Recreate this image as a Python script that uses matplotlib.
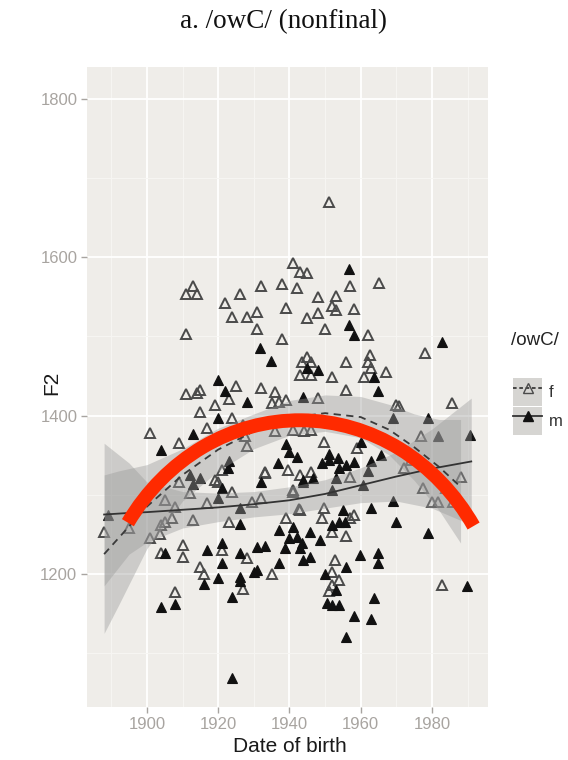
import numpy as np
import matplotlib
matplotlib.use("Agg")
import matplotlib.pyplot as plt
from matplotlib.patches import Arc, Patch
from matplotlib.lines import Line2D

plt.rcParams['font.family'] = ['Liberation Sans', 'DejaVu Sans']

# Scatter data: (date of birth, F2)
f_points = [
    (1951, 1670),
    (1941, 1592), (1943, 1581), (1945, 1580), (1942, 1561), (1948, 1549), (1953, 1551), (1957, 1564), (1965, 1567),
    (1952, 1538), (1953, 1533), (1958, 1535), (1948, 1530), (1945, 1523), (1950, 1509), (1962, 1502), (1978, 1479),
    (1913, 1563), (1911, 1554), (1914, 1554), (1922, 1542), (1926, 1553), (1932, 1563), (1938, 1566),
    (1924, 1525), (1928, 1525), (1931, 1531), (1931, 1509), (1939, 1536), (1911, 1503), (1938, 1497),
    (1943.5, 1467), (1945, 1474), (1946, 1467), (1943, 1451), (1946, 1451), (1952, 1448), (1956, 1467),
    (1962.6, 1477), (1962, 1467), (1963, 1460), (1961, 1448), (1967, 1455), (1956, 1432), (1970, 1413),
    (1985.5, 1416), (1948, 1422), (1970.7, 1412),
    (1925, 1437), (1932, 1435), (1911, 1427), (1914, 1429), (1915, 1432), (1923, 1421), (1936, 1430),
    (1935, 1416), (1937, 1417), (1939, 1420), (1919, 1413), (1915, 1405), (1924, 1397), (1901, 1378),
    (1917, 1384), (1909, 1365), (1927.5, 1374), (1928, 1361), (1921, 1331), (1933, 1328), (1939.5, 1331),
    (1936, 1381), (1941, 1382), (1944, 1381), (1946, 1382), (1927, 1388),
    (1909, 1316), (1920, 1316), (1924, 1304), (1912, 1302), (1932, 1296), (1917, 1290), (1941, 1306),
    (1905, 1293), (1908, 1285), (1913, 1268), (1907, 1271), (1905, 1265), (1923, 1266), (1942.6, 1282),
    (1888, 1253), (1895, 1258), (1901, 1245), (1903.6, 1250), (1904, 1262), (1904, 1226), (1910, 1237),
    (1910, 1222), (1921, 1230), (1915, 1209), (1916, 1200), (1927, 1181), (1928, 1220), (1935, 1200),
    (1908, 1177), (1919, 1319), (1929.5, 1291), (1939, 1270), (1933, 1329),
    (1949.6, 1366), (1977, 1374), (1959, 1359), (1974, 1344), (1946, 1329), (1943, 1325), (1957, 1322),
    (1972, 1334), (1988, 1322), (1941, 1304), (1977.4, 1308), (1980, 1291), (1981.6, 1291), (1985.8, 1291),
    (1984, 1309), (1943, 1281), (1949, 1271), (1957, 1271), (1949.6, 1283), (1958, 1275), (1952, 1253),
    (1956, 1248), (1952.7, 1218), (1952, 1203), (1954, 1192), (1952, 1186), (1951, 1179), (1982.7, 1186),
]

m_points = [
    (1956.7, 1585), (1956.7, 1514), (1958, 1502), (1982.7, 1493), (1948, 1458), (1963.7, 1448),
    (1964.8, 1431), (1943.8, 1424), (1945, 1460),
    (1931.7, 1485), (1934.8, 1469), (1920, 1445), (1922, 1431), (1928, 1417), (1920, 1397), (1913, 1377),
    (1904, 1356), (1923, 1342), (1922.7, 1334), (1939, 1364), (1940, 1354), (1942, 1348), (1936.7, 1340),
    (1943.8, 1319), (1912, 1325), (1913, 1314), (1932, 1316), (1915, 1321), (1921, 1308), (1920, 1296),
    (1926, 1283), (1889, 1275), (1926, 1263), (1937, 1256), (1940, 1245), (1943, 1233),
    (1905, 1226), (1917, 1230), (1921, 1239), (1921, 1214), (1916, 1187), (1920, 1195), (1926, 1196),
    (1926, 1191), (1924, 1171), (1926, 1226), (1931, 1234), (1933, 1235), (1930, 1202), (1931, 1205),
    (1937, 1214), (1938.7, 1233), (1908, 1162), (1904, 1158), (1924, 1069), (1941, 1259),
    (1990.6, 1376), (1981.6, 1374), (1960, 1367), (1965.6, 1350), (1963, 1343), (1951, 1344),
    (1953.6, 1346), (1954, 1334), (1956, 1338), (1958, 1341), (1962, 1330), (1943.8, 1316), (1946.6, 1321),
    (1953, 1321), (1952, 1306), (1960.6, 1312), (1969, 1292), (1963, 1283), (1955, 1281), (1970, 1265),
    (1979, 1252), (1952, 1262), (1954, 1265), (1955.5, 1265), (1945.7, 1253), (1948.5, 1243), (1942, 1247),
    (1943.5, 1239), (1959.7, 1224), (1964.8, 1226), (1964.8, 1214), (1945.7, 1222), (1943.8, 1218),
    (1950, 1200), (1956, 1209), (1953, 1180), (1950.5, 1163), (1952, 1161), (1954, 1161), (1963.7, 1170),
    (1958, 1147), (1962.8, 1143), (1955.8, 1120), (1989.8, 1185), (1969, 1397), (1979, 1397),
    (1949, 1340), (1951, 1352),
]

# loess smooths with confidence bands
f_smooth_x = [1888, 1892, 1900, 1910, 1920, 1930, 1940, 1950, 1960, 1968, 1975, 1982, 1988]
f_fit = [1225, 1245, 1285, 1325, 1357, 1380, 1397, 1403, 1398, 1382, 1360, 1335, 1310]
f_lo = [1125, 1160, 1232, 1292, 1330, 1358, 1375, 1380, 1372, 1350, 1318, 1280, 1239]
f_hi = [1325, 1330, 1338, 1358, 1384, 1402, 1419, 1426, 1424, 1414, 1402, 1395, 1395]

m_smooth_x = [1888, 1895, 1900, 1910, 1920, 1930, 1940, 1950, 1960, 1970, 1980, 1991]
m_fit = [1275, 1277, 1278, 1281, 1284, 1288, 1293, 1301, 1312, 1323, 1333, 1342]
m_lo = [1185, 1225, 1240, 1258, 1266, 1272, 1276, 1283, 1290, 1292, 1283, 1262]
m_hi = [1365, 1340, 1316, 1304, 1302, 1304, 1310, 1319, 1334, 1354, 1383, 1422]

x_ticks = [1900, 1920, 1940, 1960, 1980]
y_ticks = [1200, 1400, 1600, 1800]

fig = plt.figure(figsize=(5.68, 7.6), dpi=100)
ax = fig.add_axes([87 / 568, 53 / 760, 401 / 568, 640 / 760])

panel = '#EFEDE9'
ax.set_facecolor(panel)
for s in ax.spines.values():
    s.set_visible(False)

ax.set_xlim(1883.2, 1995.7)
ax.set_ylim(1032, 1840)
ax.set_xticks(x_ticks)
ax.set_yticks(y_ticks)
ax.set_xticks([1890, 1910, 1930, 1950, 1970, 1990], minor=True)
ax.set_yticks([1100, 1300, 1500, 1700], minor=True)
ax.grid(True, which='major', color='white', linewidth=1.3)
ax.grid(True, which='minor', color='#F7F6F3', linewidth=0.7)
ax.set_axisbelow(True)

tick_col = '#A8A4A0'
ax.tick_params(which='major', direction='out', length=4, width=1, color=tick_col,
               labelcolor=tick_col, labelsize=12, pad=3)
ax.tick_params(which='minor', length=0)

f = np.array(f_points)
m = np.array(m_points)
ax.plot(f[:, 0], f[:, 1], ls='none', marker='^', ms=7, mfc='none', mec='#4a4a4a', mew=1.4, zorder=3)
ax.plot(m[:, 0], m[:, 1], ls='none', marker='^', ms=6.5, mfc='#111111', mec='#111111', mew=0.8, zorder=3)

band = '#999999'
ax.fill_between(f_smooth_x, f_lo, f_hi, color=band, alpha=0.4, lw=0, zorder=4)
ax.fill_between(m_smooth_x, m_lo, m_hi, color=band, alpha=0.4, lw=0, zorder=4)
ax.plot(f_smooth_x, f_fit, color='#3a3a3a', lw=1.3, ls=(0, (4, 3)), zorder=5)
ax.plot(m_smooth_x, m_fit, color='#333333', lw=1.3, zorder=5)

# red arc drawn over the plot
arc_w, arc_h = 115, 568
t1, t2 = np.deg2rad(32), np.deg2rad(147)
th1 = np.degrees(np.arctan2(arc_h * np.sin(t1), arc_w * np.cos(t1)))
th2 = np.degrees(np.arctan2(arc_h * np.sin(t2), arc_w * np.cos(t2)))
ax.add_patch(Arc((1942.9, 1110), arc_w, arc_h, theta1=th1, theta2=th2,
                 color='#FF2A00', lw=10, capstyle='butt', zorder=6))

fig.text(283 / 568, 1 - 22 / 760, 'a. /owC/ (nonfinal)', ha='center', va='center',
         family=['Liberation Serif', 'DejaVu Serif'], fontsize=19.5, color='#111111')
fig.text(290 / 568, 1 - 746 / 760, 'Date of birth', ha='center', va='center',
         fontsize=15, color='#1a1a1a')
fig.text(52 / 568, 1 - 383 / 760, 'F2', ha='center', va='center', rotation=90,
         fontsize=15, color='#1a1a1a')

# legend
fig.text(511 / 568, 1 - 340 / 760, '/owC/', ha='left', va='center', fontsize=13.5, color='#222222')
key_bg = '#D6D5D2'
h_f = (Patch(facecolor=key_bg, edgecolor='none'),
       Line2D([], [], color='#3a3a3a', ls=(0, (2, 1.5)), lw=1.3, marker='^', ms=7, mfc='none', mec='#4a4a4a'))
h_m = (Patch(facecolor=key_bg, edgecolor='none'),
       Line2D([], [], color='#333333', lw=1.3, marker='^', ms=6.5, mfc='#111111', mec='#111111'))
leg = fig.legend([h_f, h_m], ['f', 'm'], loc='upper left',
                 bbox_to_anchor=(513 / 568, 1 - 378 / 760), frameon=False, fontsize=12,
                 handlelength=1.75, handleheight=2.2, labelspacing=0.05,
                 handletextpad=0.4, borderaxespad=0, borderpad=0)
for txt in leg.get_texts():
    txt.set_color('#333333')

fig.savefig('out.png', dpi=100)
